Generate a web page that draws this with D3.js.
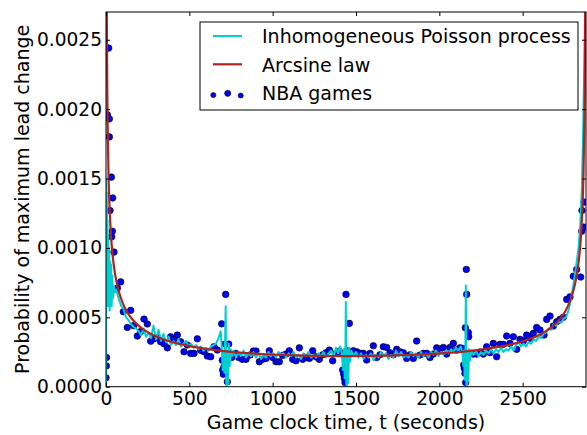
<!DOCTYPE html>
<html><head><meta charset="utf-8">
<script src="https://cdn.jsdelivr.net/npm/d3@7"></script>
<style>
html,body{margin:0;padding:0;background:#fff;}
svg{display:block;font-family:"DejaVu Sans",sans-serif;}
</style></head>
<body><svg id="c" width="587" height="435"></svg>
<script>
// ---- data ----
const xTicks = [0, 500, 1000, 1500, 2000, 2500];
const yTicks = [0, 0.0005, 0.0010, 0.0015, 0.0020, 0.0025];
const seriesNames = ["Inhomogeneous Poisson process", "Arcsine law", "NBA games"];

// Arcsine law curve values (t, p)
const arcsineT = [1,2,4,6,8,10,15,20,30,40,50,60,80,100,125,150,200,250,300,400,500,600,720,850,1000,1150,1300,1440,
  1580,1730,1880,2030,2160,2280,2380,2480,2580,2630,2680,2730,2755,2780,2800,2820,2830,2840,2850,2860,2865,2870,2872,2874,2876,2878,2879];
const arcsineP = [0.005932,0.004195,0.002968,0.002424,0.0021,0.001879,0.001535,0.001331,0.001089,0.000944,0.000846,0.000774,0.000673,0.000604,0.000542,0.000497,0.000435,0.000393,0.000362,0.00032,0.000292,0.000272,0.000255,0.000242,0.000232,0.000226,0.000222,0.000221,
  0.000222,0.000226,0.000232,0.000242,0.000255,0.000272,0.000292,0.00032,0.000362,0.000393,0.000435,0.000497,0.000542,0.000604,0.000673,0.000774,0.000846,0.000944,0.001089,0.001331,0.001535,0.001879,0.0021,0.002424,0.002968,0.004195,0.005932];

// Inhomogeneous Poisson process (t, p)
const poissonT = [0,1,3,5,7,9,11,13,16,19,22,25,28,31,34,38,42,48,55,62,70,80,92,105,120,135,150,165,180,195,210,225,240,255,270,285,300,315,330,345,360,375,390,405,420,435,450,465,480,495,510,525,540,555,570,585,600,615,630,645,660,675,688,695,700,705,710,714,718,721,725,729,733,737,742,748,755,765,780,795,810,825,840,855,870,885,900,915,930,945,960,975,990,1005,1020,1035,1050,1065,1080,1095,1110,1125,1140,1155,1170,1185,1200,1215,1230,1245,1260,1275,1290,1305,1320,1335,1350,1365,1380,1392,1404,1414,1422,1428,1432,1436,1439,1442,1446,1450,1454,1458,1464,1472,1484,1500,1515,1530,1545,1560,1575,1590,1605,1620,1635,1650,1665,1680,1695,1710,1725,1740,1755,1770,1785,1800,1815,1830,1845,1860,1875,1890,1905,1920,1935,1950,1965,1980,1995,2010,2025,2040,2055,2070,2085,2100,2115,2128,2138,2144,2148,2152,2156,2159,2162,2166,2170,2174,2178,2184,2192,2205,2220,2235,2250,2265,2280,2295,2310,2325,2340,2355,2370,2385,2400,2415,2430,2445,2460,2475,2490,2505,2520,2535,2550,2565,2580,2595,2610,2625,2640,2655,2670,2685,2700,2715,2730,2745,2760,2775,2790,2805,2820,2835,2845,2855,2862,2868,2872,2876];
const poissonP = [0.00002,0.0015,0.0009,0.0014,0.0007,0.0012,0.00058,0.0011,0.0006,0.001,0.00055,0.0009,0.00062,0.00088,0.00058,0.0008,0.00064,0.00072,0.00068,0.0007,0.00066,0.00062,0.00058,0.00056,0.0005,0.00048,0.00045,0.00043,0.00042,0.0004,0.00037,0.00042,0.00036,0.00039,0.00035,0.00044,0.00034,0.00041,0.00033,0.00038,0.00032,0.00036,0.0003,0.00033,0.0003,0.00034,0.00029,0.00031,0.00033,0.00029,0.00031,0.00028,0.0003,0.00027,0.00029,0.00026,0.00028,0.00026,0.00029,0.0003,0.00031,0.00035,0.0004,0.00027,0.00012,0.00026,0.0001,0.0003,0.00058,0.00004,0.0,0.00026,0.00002,0.00031,0.00015,0.00027,0.00022,0.00026,0.00021,0.00025,0.00022,0.00026,0.00021,0.00024,0.00022,0.00025,0.00021,0.00024,0.0002,0.00023,0.00021,0.00025,0.00022,0.00024,0.00021,0.00025,0.00023,0.00024,0.00021,0.00024,0.00022,0.00025,0.00021,0.00023,0.0002,0.00024,0.00022,0.00025,0.00021,0.00023,0.00021,0.00024,0.00022,0.00025,0.00021,0.00024,0.00026,0.00022,0.00028,0.00024,0.00029,0.00025,0.00012,0.00027,0.00006,0.00022,0.00061,0.00002,0.0,0.00026,0.00003,0.00028,0.00018,0.00026,0.00022,0.00025,0.00021,0.00024,0.0002,0.00023,0.00021,0.00024,0.00019,0.00023,0.00021,0.00025,0.00022,0.00024,0.0002,0.00023,0.00021,0.00026,0.00022,0.00025,0.00021,0.00023,0.00021,0.00025,0.00022,0.00024,0.00021,0.00025,0.00022,0.00024,0.00021,0.00025,0.00023,0.00026,0.00022,0.00025,0.00023,0.00026,0.00024,0.00027,0.00025,0.00028,0.00026,0.00029,0.00025,0.00015,0.00026,0.00005,0.00024,0.00073,0.00002,0.0,0.00025,0.00004,0.00027,0.00019,0.00026,0.00023,0.00026,0.00022,0.00025,0.00023,0.00026,0.00024,0.00027,0.00024,0.00027,0.00025,0.00028,0.00025,0.00027,0.00026,0.00029,0.00026,0.0003,0.00032,0.00029,0.00031,0.00029,0.00032,0.00031,0.00034,0.00033,0.00036,0.00035,0.00038,0.00039,0.00042,0.00041,0.00045,0.00044,0.00047,0.00046,0.00049,0.0005,0.00055,0.00063,0.00074,0.00086,0.001,0.00115,0.00142,0.0018,0.0022,0.0025,0.0029];

// NBA games (t, p)
const nbaT = [0,2,3,8,16,20,20,24,32,40,38,34,48,68,88,104,128,148,166,188,208,228,248,268,288,308,328,348,368,388,408,428,448,468,488,508,528,548,568,588,608,628,648,668,694,718,714,736,698,700,704,708,728,754,778,796,818,840,864,884,900,920,940,960,980,1000,1020,1040,1060,1080,1100,1120,1140,1160,1180,1200,1220,1240,1260,1280,1300,1320,1340,1360,1380,1400,1420,1426,1430,1434,1440,1460,1448,1484,1504,1524,1544,1564,1584,1604,1624,1644,1664,1684,1704,1724,1744,1764,1784,1804,1824,1844,1864,1884,1904,1924,1944,1964,1984,2004,2024,2044,2064,2084,2104,2124,2140,2146,2150,2154,2158,2162,2164,2156,2174,2176,2204,2224,2244,2264,2284,2304,2324,2344,2364,2384,2404,2424,2444,2464,2484,2504,2524,2544,2564,2584,2604,2628,2644,2664,2684,2704,2724,2744,2764,2784,2804,2824,2848,2854,2856,2866,2868];
const nbaP = [0.000065,0.00015,0.00021,0.00196,0.00244,0.00193,0.0018,0.00127,0.00151,0.00136,0.00112,0.00108,0.00097,0.00071,0.000755,0.00054,0.000427,0.00055,0.00044,0.000365,0.000398,0.000487,0.000452,0.000328,0.000345,0.000353,0.000324,0.00031,0.00028,0.00036,0.00034,0.000372,0.000324,0.000252,0.0003,0.00024,0.00024,0.000345,0.000262,0.000252,0.000221,0.000216,0.000288,0.000264,0.000453,0.000665,0.000307,0.000307,0.00019,0.00012,0.00009,0.000144,0.000036,0.00021,0.00024,0.00021,0.000197,0.000197,0.000228,0.000257,0.000257,0.00018,0.000197,0.000204,0.000259,0.00021,0.00018,0.00018,0.000225,0.000235,0.000259,0.000197,0.000187,0.00028,0.000197,0.00021,0.000204,0.000259,0.000215,0.000197,0.00023,0.000245,0.000264,0.000187,0.00024,0.000255,0.00012,0.00009,0.00006,0.00003,0.000665,0.000456,0.00026,0.000259,0.000252,0.00024,0.00024,0.000192,0.00024,0.000295,0.00021,0.00023,0.000288,0.000283,0.000245,0.00023,0.000269,0.000252,0.000245,0.000204,0.00023,0.000204,0.000329,0.000228,0.00024,0.00024,0.00021,0.000235,0.00028,0.000271,0.000283,0.000235,0.000283,0.000312,0.000264,0.00028,0.000276,0.000156,0.000132,0.0000964,0.00003,0.000845,0.000665,0.000425,0.00039,0.00036,0.000235,0.000235,0.00025,0.000235,0.000288,0.000245,0.000312,0.000216,0.000305,0.000305,0.000365,0.000312,0.00036,0.000269,0.000341,0.00033,0.000372,0.00035,0.000384,0.000427,0.000408,0.000372,0.000485,0.000509,0.000437,0.000468,0.000485,0.0005,0.000629,0.000647,0.000796,0.000845,0.00079,0.00112,0.00127,0.00115,0.00133];

// ---- drawing ----
const svg = d3.select("#c");
const FONT = 18.6, LFONT = 19;
const L = 106, R = 586, T = 12, B = 386.7;
const x = d3.scaleLinear().domain([0, 2880]).range([L, R]);
const y = d3.scaleLinear().domain([0, 0.0027]).range([B, T]);

svg.append("rect").attr("width", 587).attr("height", 435).attr("fill", "#fff");
svg.append("defs").append("clipPath").attr("id", "clip")
  .append("rect").attr("x", L).attr("y", T).attr("width", R - L).attr("height", B - T);

const plot = svg.append("g").attr("clip-path", "url(#clip)");

const nba = nbaT.map((t, i) => [t, nbaP[i]]);
plot.selectAll("circle.nba").data(nba).join("circle")
  .attr("class", "nba")
  .attr("cx", d => x(d[0])).attr("cy", d => y(d[1])).attr("r", 3.3)
  .attr("fill", "#0000ff").attr("stroke", "#000").attr("stroke-width", 0.6);

const line = d3.line().x(d => x(d[0])).y(d => y(d[1]));
const poisson = poissonT.map((t, i) => [t, poissonP[i]]);
plot.append("path").datum(poisson).attr("d", line)
  .attr("fill", "none").attr("stroke", "#00ced1").attr("stroke-width", 2).attr("stroke-linejoin", "round");

const arc = arcsineT.map((t, i) => [t, arcsineP[i]]);
plot.append("path").datum(arc).attr("d", line.curve(d3.curveMonotoneX))
  .attr("fill", "none").attr("stroke", "#b22222").attr("stroke-width", 2.2);

// axes
const fmtY = d3.format(".4f");
const gx = svg.append("g").attr("transform", `translate(0,${B})`)
  .call(d3.axisBottom(x).tickValues(xTicks).tickSizeInner(-4).tickSizeOuter(0).tickPadding(5).tickFormat(d3.format("d")));
const gxt = svg.append("g").attr("transform", `translate(0,${T})`)
  .call(d3.axisTop(x).tickValues(xTicks).tickSizeInner(-4).tickSizeOuter(0).tickFormat(""));
const gy = svg.append("g").attr("transform", `translate(${L},0)`)
  .call(d3.axisLeft(y).tickValues(yTicks).tickSizeInner(-4).tickSizeOuter(0).tickPadding(4).tickFormat(fmtY));
const gyr = svg.append("g").attr("transform", `translate(${R},0)`)
  .call(d3.axisRight(y).tickValues(yTicks).tickSizeInner(-4).tickSizeOuter(0).tickFormat(""));
[gx, gxt, gy, gyr].forEach(g => {
  g.select(".domain").remove();
  g.selectAll("line").attr("stroke", "#000").attr("stroke-width", 1);
  g.selectAll("text").attr("font-family", "DejaVu Sans").attr("font-size", FONT).attr("fill", "#000");
});

// spines
svg.append("rect").attr("x", L).attr("y", T).attr("width", R - L).attr("height", B - T)
  .attr("fill", "none").attr("stroke", "#000").attr("stroke-width", 1);

// labels
svg.append("text").attr("x", (L + R) / 2).attr("y", 429).attr("text-anchor", "middle")
  .attr("font-size", LFONT).text("Game clock time, t (seconds)");
svg.append("text").attr("transform", `translate(28.5,${(T + B) / 2}) rotate(-90)`).attr("text-anchor", "middle")
  .attr("font-size", LFONT).text("Probability of maximum lead change");

// legend
const lg = svg.append("g");
lg.append("rect").attr("x", 200).attr("y", 22).attr("width", 378).attr("height", 88)
  .attr("fill", "#fff").attr("stroke", "#000").attr("stroke-width", 1);
lg.append("line").attr("x1", 213).attr("x2", 242).attr("y1", 36).attr("y2", 36)
  .attr("stroke", "#00ced1").attr("stroke-width", 2);
lg.append("line").attr("x1", 213).attr("x2", 242).attr("y1", 64.3).attr("y2", 64.3)
  .attr("stroke", "#b22222").attr("stroke-width", 2.2);
const legDots = [[213.3, 95, 2.6], [227.7, 93.3, 3.1], [240.7, 95.5, 2.6]];
lg.selectAll("circle").data(legDots).join("circle")
  .attr("cx", d => d[0]).attr("cy", d => d[1]).attr("r", d => d[2])
  .attr("fill", "#0000ff").attr("stroke", "#000").attr("stroke-width", 0.5);
const baselines = [43, 71.5, 100];
lg.selectAll("text").data(seriesNames).join("text")
  .attr("x", 262).attr("y", (d, i) => baselines[i]).attr("font-size", LFONT).text(d => d);
</script></body></html>
